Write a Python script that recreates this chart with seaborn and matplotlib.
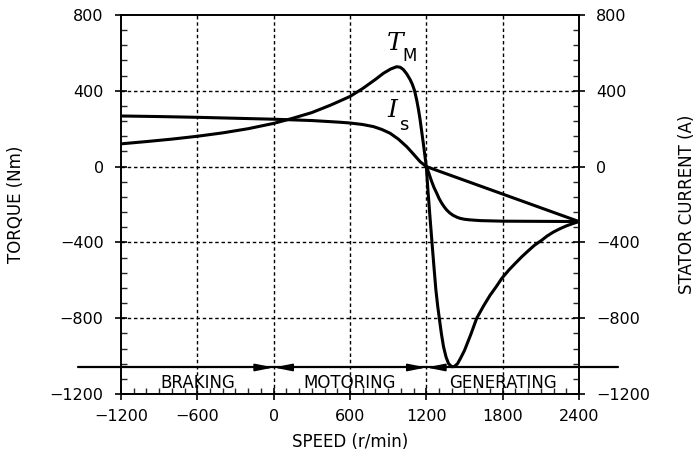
import matplotlib
matplotlib.use("Agg")
import matplotlib.pyplot as plt
import seaborn as sns
from matplotlib.ticker import MultipleLocator

# motor torque T_M vs speed
speed_tm = [-1200, -1000, -800, -600, -400, -200, 0, 150, 300, 450, 600, 700,
            800, 862, 920, 967, 995, 1019, 1045, 1072, 1090, 1107, 1124, 1138,
            1150, 1163, 1176, 1188, 1200, 1212, 1228, 1243, 1260, 1275, 1290,
            1302, 1318, 1335, 1355, 1375, 1400, 1420, 1445, 1470, 1500, 1550,
            1596, 1650, 1700, 1750, 1793, 1850, 1900, 1950, 2000, 2050, 2108,
            2150, 2200, 2250, 2300, 2350, 2400]
torque_tm = [120, 132, 145, 160, 178, 200, 228, 255, 285, 325, 370, 412,
             460, 492, 515, 527, 524, 512, 490, 460, 434, 402, 352, 302,
             252, 188, 124, 62, 0, -120, -260, -388, -530, -650, -740,
             -800, -880, -950, -1005, -1040, -1056, -1055, -1040, -1010, -970, -885,
             -800, -735, -680, -633, -590, -545, -510, -476, -445, -415, -388,
             -366, -345, -328, -313, -301, -290]

# stator current I_s vs speed
speed_is = [-1200, -900, -600, -300, 0, 300, 522, 600, 700, 784, 850, 915, 980,
            1046, 1100, 1151, 1200, 1220, 1240, 1260, 1282, 1300, 1320, 1340,
            1360, 1385, 1410, 1440, 1465, 1500, 1540, 1622, 1800, 2100, 2400]
current_is = [267, 264, 260, 255, 250, 243, 234, 230, 222, 211, 196, 176, 145,
              105, 65, 26, 0, -35, -75, -110, -141, -168, -192, -212,
              -229, -245, -257, -267, -273, -278, -281, -285, -288, -289, -290]

# straight branch in generating region
speed_line = [1200, 2400]
value_line = [0, -290]

x_ticks = [-1200, -600, 0, 600, 1200, 1800, 2400]
y_ticks = [-1200, -800, -400, 0, 400, 800]
regions = ["BRAKING", "MOTORING", "GENERATING"]
region_centers = [-600, 600, 1800]
region_bounds = [0, 1200]
band_level = -1060
label_level = -1140

sns.set_style("ticks")
plt.rcParams['font.family'] = ['DejaVu Sans']
plt.rcParams['axes.linewidth'] = 1.4
plt.rcParams['text.color'] = 'black'
plt.rcParams['axes.labelcolor'] = 'black'

fig = plt.figure(figsize=(6.97, 4.68), dpi=100)
ax = fig.add_axes([0.1736, 0.1581, 0.6571, 0.8099])

for xs, ys in [(speed_tm, torque_tm), (speed_is, current_is), (speed_line, value_line)]:
    sns.lineplot(x=xs, y=ys, ax=ax, color='black', lw=2.2, sort=False,
                 estimator=None, legend=False)

ax.set_xlim(-1200, 2400)
ax.set_ylim(-1200, 800)
ax.set_xticks(x_ticks)
ax.set_yticks(y_ticks)
ax.set_xticklabels([f"{v}".replace("-", "\u2212") for v in x_ticks])
ax.set_yticklabels([f"{v}".replace("-", "\u2212") for v in y_ticks])
ax.xaxis.set_minor_locator(MultipleLocator(100))
ax.yaxis.set_minor_locator(MultipleLocator(80))
ax.tick_params(which='major', direction='inout', length=9, width=1.2,
               labelsize=11.5, colors='black', left=True, right=True, top=False,
               labelright=True, pad=6)
ax.tick_params(which='minor', direction='in', length=4, width=1.0,
               left=True, right=True, top=False, bottom=True)
ax.tick_params(axis='y', which='major', pad=8)

for v in x_ticks[1:-1]:
    ax.axvline(v, color='black', lw=1.0, ls=(0, (2.5, 2)), zorder=0)
for v in y_ticks[1:-1]:
    ax.axhline(v, color='black', lw=1.0, ls=(0, (2.5, 2)), zorder=0)

for s in ax.spines.values():
    s.set_color('black')

ax.set_xlabel("SPEED (r/min)", fontsize=12, labelpad=7)
ax.set_ylabel("TORQUE (Nm)", fontsize=12)
ax.yaxis.set_label_coords(-0.21, 0.5)
ax.text(1.235, 0.5, "STATOR CURRENT (A)", transform=ax.transAxes, rotation=90,
        fontsize=12, ha='center', va='center')

# operating region band
ax.plot([-0.094, 1.085], [band_level, band_level], color='black', lw=1.6,
        transform=ax.get_yaxis_transform(), clip_on=False)
for b in region_bounds:
    for side in (-140, 140):
        ax.annotate("", xy=(b, band_level), xytext=(b + side, band_level),
                    arrowprops=dict(arrowstyle='-|>,head_length=1.1,head_width=0.22',
                                    color='black', lw=1.2, shrinkA=0, shrinkB=0))
for name, c in zip(regions, region_centers):
    ax.text(c, label_level, name, fontsize=12, ha='center', va='center')

# curve labels
ax.text(955, 650, "T", fontsize=18, family='DejaVu Serif', style='italic',
        ha='center', va='center')
ax.text(1068, 585, "M", fontsize=12, ha='center', va='center')
ax.text(934, 298, "I", fontsize=18, family='DejaVu Serif', style='italic',
        ha='center', va='center')
ax.text(1025, 218, "s", fontsize=13, ha='center', va='center')

fig.savefig("out.png", dpi=100)
